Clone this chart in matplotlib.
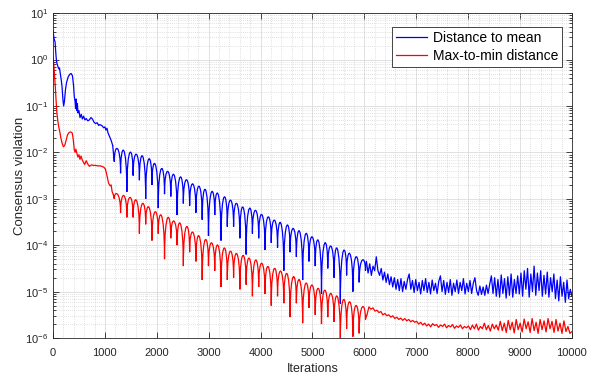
import numpy as np
import matplotlib
matplotlib.use("Agg")
import matplotlib.pyplot as plt
from matplotlib.path import Path
from matplotlib.patches import PathPatch
from matplotlib.ticker import LogLocator, MultipleLocator, NullFormatter

plt.rcParams['font.family'] = ['Liberation Sans', 'DejaVu Sans']

# ---- data (values as log10 of the consensus violation) ----
# early transient, before the oscillation settles
blue_head_x = [0, 20, 40, 50, 60, 70, 80, 95, 110, 125, 140, 160, 175, 190, 205, 220, 240, 260,
               290, 320, 350, 375, 395, 410, 425, 435, 445, 455, 470, 480, 500, 520, 545, 565,
               590, 615, 640, 670, 700, 730, 760, 790, 820, 850, 880, 900, 950, 975, 1000, 1020,
               1040, 1060, 1090, 1120, 1150]
blue_head_log = [0.63, 0.45, 0.38, 0.2, 0.05, -0.05, -0.1, -0.15, -0.2, -0.18, -0.3, -0.45, -0.6,
                 -0.85, -1.0, -0.9, -0.65, -0.5, -0.38, -0.32, -0.3, -0.35, -0.55, -0.8, -0.9,
                 -1.05, -0.85, -1.1, -0.95, -1.15, -1.1, -1.25, -1.18, -1.28, -1.22, -1.3, -1.27,
                 -1.32, -1.3, -1.25, -1.28, -1.35, -1.38, -1.36, -1.42, -1.4, -1.43, -1.47, -1.45,
                 -1.52, -1.48, -1.58, -1.66, -1.74, -1.85]

red_head_x = [0, 15, 30, 45, 60, 75, 90, 110, 130, 150, 175, 200, 225, 250, 280, 310, 340, 370,
              390, 410, 425, 440, 460, 480, 500, 520, 540, 560, 580, 610, 640, 670, 700, 740,
              780, 820, 860, 900, 940, 980, 1010, 1040, 1070, 1100, 1120, 1140, 1160]
red_head_log = [0.05, -0.1, -0.35, -0.6, -0.9, -1.15, -1.3, -1.45, -1.55, -1.68, -1.8, -1.88,
                -1.85, -1.75, -1.62, -1.57, -1.56, -1.58, -1.72, -1.95, -2.0, -1.93, -2.02, -2.1,
                -2.05, -2.15, -2.08, -2.15, -2.2, -2.26, -2.18, -2.25, -2.3, -2.27, -2.28, -2.28,
                -2.29, -2.29, -2.3, -2.32, -2.36, -2.5, -2.66, -2.72, -2.7, -2.85, -2.9]

# oscillating phase: iterations of the dips between arches
dip_x = [1181, 1302, 1423, 1544, 1665, 1786, 1907, 2028, 2149, 2270, 2391, 2512, 2633, 2754,
         2875, 2996, 3117, 3238, 3359, 3480, 3601, 3722, 3843, 3964, 4085, 4206, 4327, 4448,
         4569, 4690, 4811, 4932, 5053, 5174, 5295, 5416, 5537, 5658, 5779, 5900, 6021]

blue_dip_log = [-2.2, -2.45, -2.85, -2.5, -2.6, -3.0, -2.7, -3.2, -2.9, -2.95, -3.35, -3.1,
                -3.15, -3.3, -3.45, -3.8, -3.35, -3.9, -3.6, -3.6, -3.85, -4.2, -3.75, -3.85,
                -4.1, -3.95, -4.05, -4.55, -4.15, -4.25, -4.75, -4.35, -4.45, -5.05, -4.5, -4.7,
                -5.26, -4.65, -5.0, -4.8, -4.55]
blue_peak_log = [-1.92, -1.96, -2.0, -2.04, -2.08, -2.14, -2.25, -2.35, -2.41, -2.48, -2.53,
                 -2.59, -2.68, -2.73, -2.8, -2.85, -2.89, -2.96, -3.03, -3.1, -3.18, -3.21,
                 -3.25, -3.34, -3.39, -3.46, -3.52, -3.57, -3.64, -3.7, -3.75, -3.82, -3.9,
                 -3.96, -4.02, -4.07, -4.12, -4.18, -4.25, -4.32]

red_dip_log = [-3.0, -3.3, -3.4, -3.4, -3.75, -3.55, -3.9, -3.75, -4.3, -3.85, -4.0, -4.45,
               -4.15, -4.35, -4.75, -4.45, -4.55, -4.9, -4.75, -4.7, -4.95, -4.85, -5.1, -4.9,
               -5.05, -5.3, -5.1, -5.25, -5.55, -5.25, -5.68, -5.35, -5.5, -5.7, -5.55, -5.65,
               -6.05, -5.8, -5.97, -5.9, -5.6]
red_peak_log = [-2.9, -2.93, -2.97, -3.03, -3.1, -3.18, -3.28, -3.36, -3.41, -3.48, -3.53, -3.6,
                -3.72, -3.8, -3.88, -3.95, -4.0, -4.06, -4.13, -4.18, -4.22, -4.28, -4.32,
                -4.39, -4.46, -4.5, -4.56, -4.61, -4.68, -4.75, -4.82, -4.86, -4.93, -4.97,
                -5.04, -5.1, -5.17, -5.22, -5.3, -5.33]

# noisy floor after the oscillation dies out
blue_tail_log = [-4.35, -4.6, -4.4, -4.65, -4.45, -4.55,
                 -4.25, -4.55, -4.65,
                 -4.5, -4.75, -4.58, -4.8, -4.62, -4.85, -4.68,
                 -4.9, -4.7, -4.95, -4.74, -4.98, -4.72, -5.0, -4.78, -4.95, -4.74,
                 -4.62,
                 -4.95, -4.76, -5.02, -4.74, -4.98, -4.8, -5.05, -4.76, -4.98, -4.72, -5.02, -4.8,
                 -5.05, -4.75, -4.98, -4.82, -5.04, -4.78,
                 -4.66,
                 -5.0, -4.76, -5.06, -4.8, -5.02, -4.74, -5.08, -4.82, -5.0, -4.75, -5.04, -4.8,
                 -4.98, -4.72, -5.05, -4.82, -5.0, -4.76, -5.04, -4.82,
                 -4.7,
                 -4.98, -5.08, -4.88, -5.06, -4.9, -5.08, -4.86, -5.04, -4.84,
                 -4.66, -5.04, -4.7, -5.1, -4.74, -5.12, -4.64, -5.04, -4.72, -5.14, -4.68, -5.08,
                 -4.62, -5.12, -4.74, -5.04, -4.66,
                 -5.05, -4.6, -5.1, -4.55, -4.95, -4.5, -5.12, -4.62, -5.0, -4.45, -5.08, -4.6,
                 -4.98, -4.55, -5.1, -4.65, -5.05, -4.58, -5.12, -4.7,
                 -5.0, -4.62, -5.15, -4.75, -5.2, -4.68, -5.1, -4.8, -5.23, -4.75, -5.15, -4.95,
                 -5.1]
red_tail_log = [-5.5, -5.33, -5.38, -5.35, -5.42, -5.4, -5.45, -5.43, -5.5, -5.47, -5.52, -5.5,
                -5.55, -5.52, -5.58, -5.55, -5.6, -5.57, -5.62, -5.58, -5.63, -5.6, -5.65, -5.62,
                -5.66,
                -5.64, -5.7, -5.66, -5.72, -5.68, -5.74, -5.7, -5.76, -5.69, -5.73, -5.71, -5.77,
                -5.72, -5.75, -5.7, -5.78, -5.73, -5.76, -5.71, -5.79, -5.74, -5.77, -5.72, -5.8,
                -5.75, -5.78,
                -5.74, -5.82, -5.72, -5.8, -5.7, -5.83, -5.75, -5.8, -5.68, -5.82, -5.73, -5.85,
                -5.7, -5.8, -5.72, -5.83,
                -5.64, -5.84, -5.68, -5.88, -5.62, -5.82, -5.66, -5.89, -5.6, -5.82, -5.68, -5.87,
                -5.59, -5.8, -5.65, -5.88, -5.58, -5.84, -5.66, -5.9, -5.6, -5.82, -5.63, -5.87,
                -5.58, -5.8, -5.64, -5.88, -5.6, -5.85, -5.68, -5.9, -5.63, -5.86, -5.75, -5.9,
                -5.86]
blue_tail_x = np.linspace(6040, 10000, len(blue_tail_log))
red_tail_x = np.linspace(6050, 10000, len(red_tail_log))

x_ticks = [0, 1000, 2000, 3000, 4000, 5000, 6000, 7000, 8000, 9000, 10000]


def arch_path(start, dips_x, dips_log, peaks_log, end):
    # each oscillation is one rounded arch between two dips (cusps at the dips)
    verts = [start, (dips_x[0], 10 ** dips_log[0])]
    codes = [Path.MOVETO, Path.LINETO]
    for i in range(len(peaks_log)):
        x0, x1 = dips_x[i], dips_x[i + 1]
        c = (peaks_log[i] - 0.125 * (dips_log[i] + dips_log[i + 1])) / 0.75
        verts += [(x0, 10 ** c), (x1, 10 ** c), (x1, 10 ** dips_log[i + 1])]
        codes += [Path.CURVE4] * 3
    verts.append(end)
    codes.append(Path.LINETO)
    return Path(verts, codes)


fig = plt.figure(figsize=(5.89, 3.76), dpi=100)
ax = fig.add_axes([0.09, 0.101, 0.881, 0.864])

series = [
    ("Distance to mean", "#0000ff", blue_head_x, blue_head_log, blue_dip_log, blue_peak_log,
     blue_tail_x, blue_tail_log),
    ("Max-to-min distance", "#ff0000", red_head_x, red_head_log, red_dip_log, red_peak_log,
     red_tail_x, red_tail_log),
]
lw = 0.9
for label, color, hx, hlog, dlog, plog, tx, tlog in series:
    hy = 10 ** np.array(hlog)
    ty = 10 ** np.array(tlog)
    ax.plot(hx, hy, color=color, lw=lw, label=label)
    ax.plot(tx, ty, color=color, lw=lw)
    p = arch_path((hx[-1], hy[-1]), dip_x, dlog, plog, (tx[0], ty[0]))
    ax.add_patch(PathPatch(p, facecolor="none", edgecolor=color, lw=lw))

ax.set_yscale("log")
ax.set_xlim(0, 10000)
ax.set_ylim(1e-6, 1e1)
ax.set_xticks(x_ticks)
ax.xaxis.set_minor_locator(MultipleLocator(200))
ax.yaxis.set_major_locator(LogLocator(base=10, numticks=20))
ax.yaxis.set_minor_locator(LogLocator(base=10, subs=np.arange(2, 10), numticks=20))
ax.yaxis.set_minor_formatter(NullFormatter())

ax.grid(True, which="major", color="#dcdcdc", lw=0.6, ls="-")
ax.grid(True, which="minor", color="#c4c4c4", lw=0.5, ls=(0, (1, 2)))
ax.set_axisbelow(True)

ax.tick_params(which="both", direction="in", top=True, right=True, colors="#262626",
               labelsize=8, width=0.6)
ax.tick_params(which="major", length=4)
ax.tick_params(which="minor", length=2)
ax.tick_params(axis="x", which="minor", length=0)
ax.tick_params(axis="x", which="major", pad=7)
for s in ax.spines.values():
    s.set_color("#262626")
    s.set_linewidth(0.6)

ax.set_xlabel("Iterations", fontsize=9, color="#262626", labelpad=4)
ax.set_ylabel("Consensus violation", fontsize=9.5, color="#262626", labelpad=-1)

leg = ax.legend(loc="upper right", bbox_to_anchor=(0.981, 0.957), borderaxespad=0,
                fancybox=False, framealpha=1, edgecolor="#262626", fontsize=10,
                handlelength=2.2, handletextpad=0.4, labelspacing=0.25, borderpad=0.3)
leg.get_frame().set_linewidth(0.6)

fig.savefig("out.png", dpi=100)
